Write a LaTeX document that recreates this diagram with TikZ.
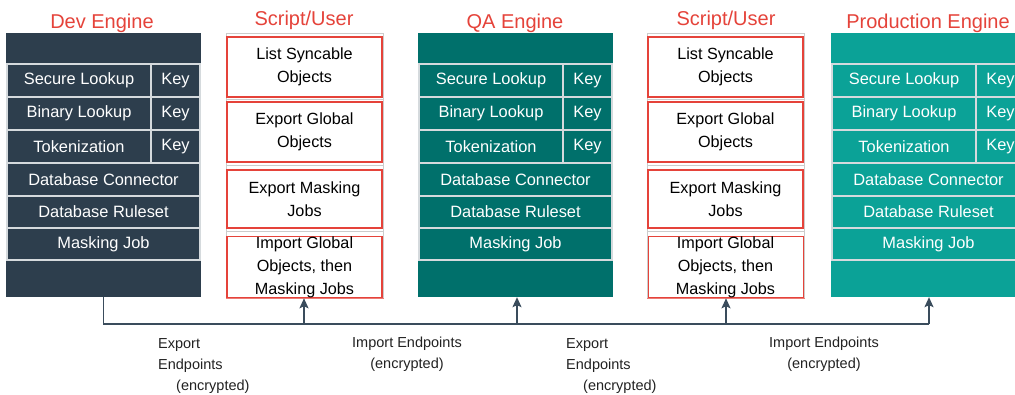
\documentclass[tikz,border=0pt]{standalone}
\usepackage{fontspec}
\setmainfont{Liberation Sans}
\usetikzlibrary{arrows.meta}
\definecolor{devc}{HTML}{2D3E4D}
\definecolor{qac}{HTML}{00706B}
\definecolor{prodc}{HTML}{0BA297}
\definecolor{redc}{HTML}{E5433A}
\definecolor{linec}{HTML}{3A4C5C}
\definecolor{labc}{HTML}{222222}
\definecolor{rowline}{HTML}{D5DADD}
\tikzset{
  title/.style={text=redc, font=\fontsize{20}{24}\selectfont, anchor=base, inner sep=0},
  enginebg/.style={draw=none, inner sep=0, minimum width=195, minimum height=264},
  cell/.style={draw=rowline, line width=1.1pt, inner sep=0, text=white,
    font=\fontsize{16.4}{19}\selectfont},
  colbg/.style={draw=redc!70, line width=0.6pt, inner sep=0, minimum width=157, minimum height=265, fill=white},
  colcell/.style={draw=gray!40, line width=0.6pt, inner sep=0, minimum width=157, minimum height=66},
  sbox/.style={draw=redc, line width=1.5pt, inner sep=0, align=center, text=black,
    font=\fontsize{16.2}{23}\selectfont},
  sboxthin/.style={sbox, line width=0.8pt},
  bus/.style={draw=linec, line width=1.4pt},
  busarrow/.style={draw=linec, line width=1.4pt, arrows={-Stealth[length=10pt, width=9pt, inset=2pt]}},
  lab/.style={text=labc, font=\fontsize{14.5}{21}\selectfont, inner sep=0}
}
\newcommand{\mkengine}[3]{%
  \node[enginebg, fill=#3] (#1) at (#2+97.5,165) {};
  \node[cell, minimum width=144, minimum height=33] (#1sl) at (#2+73,80.5) {Secure Lookup};
  \node[cell, minimum width=49, minimum height=33] (#1slk) at (#2+169.5,80.5) {Key};
  \node[cell, minimum width=144, minimum height=33] (#1bl) at (#2+73,113.5) {Binary Lookup};
  \node[cell, minimum width=49, minimum height=33] (#1blk) at (#2+169.5,113.5) {Key};
  \node[cell, minimum width=144, minimum height=33] (#1tk) at (#2+73,146.5) {Tokenization};
  \node[cell, minimum width=49, minimum height=33] (#1tkk) at (#2+169.5,146.5) {Key};
  \node[cell, minimum width=193, minimum height=33] (#1dc) at (#2+97.5,179.5) {Database Connector};
  \node[cell, minimum width=193, minimum height=32] (#1dr) at (#2+97.5,212) {Database Ruleset};
  \node[cell, minimum width=193, minimum height=32] (#1mj) at (#2+97.5,244) {Masking Job};
}
\newcommand{\mkscript}[3]{%
  \node[colbg] (#1) at (#2+78.5,165.5) {};
  \node[colcell] (#1ca) at (#2+78.5,66) {};
  \node[colcell] (#1cb) at (#2+78.5,132) {};
  \node[colcell] (#1cc) at (#2+78.5,198) {};
  \node[colcell] (#1cd) at (#2+78.5,264.5) {};
  \node[sbox, minimum width=155, minimum height=60] (#1a) at (#2+78.5,67) {List Syncable\\Objects};
  \node[sbox, minimum width=155, minimum height=60] (#1b) at (#2+78.5,132) {Export Global\\Objects};
  \node[sbox, minimum width=155, minimum height=58] (#1c) at (#2+78.5,199) {Export Masking\\Jobs};
  \node[#3, minimum width=155, minimum height=60] (#1d) at (#2+78.5,267) {Import Global\\Objects, then\\Masking Jobs};
}
\begin{document}
\begin{tikzpicture}[x=1pt,y=-1pt]
\clip (0,0) rectangle (1015,395);
\fill[white] (0,0) rectangle (1015,395);
% titles
\node[title] (tdev) at (102,29) {Dev Engine};
\node[title] (ts1) at (304,26) {Script/User};
\node[title] (tqa) at (515,29) {QA Engine};
\node[title] (ts2) at (726,26) {Script/User};
\node[title] (tprod) at (928,29) {Production Engine};
% engines
\mkengine{dev}{6}{devc}
\mkengine{qa}{418}{qac}
\mkengine{prod}{831}{prodc}
% scripts
\mkscript{sa}{226}{sbox}
\mkscript{sb}{647}{sboxthin}
% connectors
\coordinate (busy) at (0,324);
\coordinate (busa) at (304,324);
\coordinate (busq) at (517,324);
\coordinate (busb) at (726,324);
\coordinate (busp) at (929,324);
\draw[bus] (dev.south) -- (dev.south |- busy) -- (busp);
\draw[busarrow] (busa) -- (busa |- sa.south);
\draw[busarrow] (busq) -- (busq |- qa.south);
\draw[busarrow] (busb) -- (busb |- sb.south);
\draw[busarrow] (busp) -- (busp |- prod.south);
% labels
\node[lab, anchor=north west, align=left] (l1) at (158,338) {Export\\Endpoints\\\hspace*{18pt}(encrypted)};
\node[lab, anchor=north, align=center] (l2) at (407,337) {Import Endpoints\\(encrypted)};
\node[lab, anchor=north west, align=left] (l3) at (566,338) {Export\\Endpoints\\\hspace*{17pt}(encrypted)};
\node[lab, anchor=north, align=center] (l4) at (824,337) {Import Endpoints\\(encrypted)};
\end{tikzpicture}
\end{document}
